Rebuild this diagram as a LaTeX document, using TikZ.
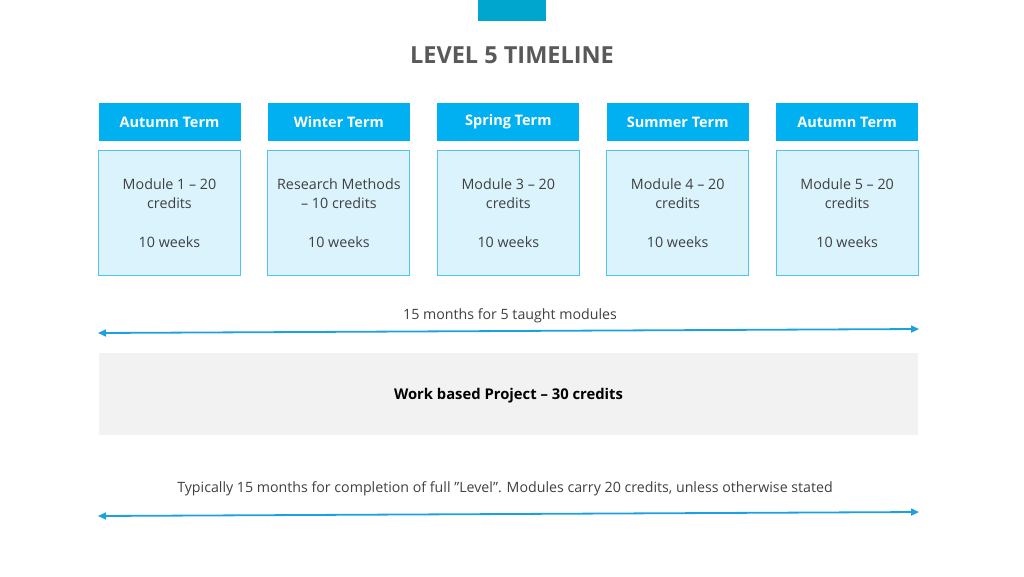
\documentclass[tikz,border=0pt]{standalone}
\usepackage{fontspec}
\setmainfont{Open Sans}
\usepackage{xcolor}
\usetikzlibrary{arrows.meta,positioning}

\definecolor{termblue}{RGB}{0,176,240}
\definecolor{topblue}{RGB}{0,166,206}
\definecolor{modfill}{RGB}{218,243,253}
\definecolor{modline}{RGB}{80,196,240}
\definecolor{lineblue}{RGB}{27,161,226}
\definecolor{txtgray}{RGB}{64,64,64}
\definecolor{titlegray}{RGB}{89,89,89}
\definecolor{projgray}{RGB}{242,242,242}

\begin{document}
\begin{tikzpicture}[
    x=1pt, y=-1pt,
    node distance=27pt,
    term/.style={rectangle, fill=termblue, text=white, font=\fontsize{14.5}{17}\selectfont\bfseries, minimum width=142pt, minimum height=38pt, inner sep=0pt},
    module/.style={rectangle, fill=modfill, draw=modline, line width=0.9pt, text=txtgray, font=\fontsize{14.3}{19.5}\selectfont, align=center, minimum width=142pt, minimum height=125pt, inner sep=0pt},
    span/.style={draw=lineblue, line width=1.8pt, {Triangle[length=8pt,width=7pt]}-{Triangle[length=8pt,width=7pt]}},
    note/.style={text=txtgray, font=\fontsize{14.2}{16}\selectfont, inner sep=0pt}
]
\useasboundingbox (0,0) rectangle (1024,576);

% title
\node[fill=topblue, minimum width=68pt, minimum height=21pt, inner sep=0pt] (topbar) at (512,10.5) {};
\node[text=titlegray, font=\fontsize{23.5}{26}\selectfont\bfseries] (title) at (512,55) {LEVEL 5 TIMELINE};

% terms
\node[term] (autumn1) at (169.5,122) {Autumn Term};
\node[term, right=of autumn1] (winter) {Winter Term};
\node[term, right=of winter] (spring) {Spring Term};
\node[term, right=of spring] (summer) {Summer Term};
\node[term, right=of summer] (autumn2) {Autumn Term};

% modules
\node[module, below=9pt of autumn1] (mod1) {Module 1 -- 20\\credits\\[19.5pt]10 weeks};
\node[module, below=9pt of winter] (research) {Research Methods\\-- 10 credits\\[19.5pt]10 weeks};
\node[module, below=9pt of spring] (mod3) {Module 3 -- 20\\credits\\[19.5pt]10 weeks};
\node[module, below=9pt of summer] (mod4) {Module 4 -- 20\\credits\\[19.5pt]10 weeks};
\node[module, below=9pt of autumn2] (mod5) {Module 5 -- 20\\credits\\[19.5pt]10 weeks};

% taught span
\node[note] (taught) at (510,316) {15 months for 5 taught modules};
\coordinate (taughtl) at (98,333);
\coordinate (taughtr) at (919,329);
\draw[span] (taughtl) -- (taughtr);

% project
\node[fill=projgray, minimum width=819pt, minimum height=82pt, inner sep=0pt] (project) at (508.5,394) {};
\node[font=\fontsize{14.8}{16}\selectfont\bfseries, text=black, inner sep=0pt] (projlabel) at (508.5,396) {Work based Project -- 30 credits};

% level span
\node[note] (level) at (505,489) {Typically 15 months for completion of full ”Level”. Modules carry 20 credits, unless otherwise stated};
\coordinate (levell) at (98,516);
\coordinate (levelr) at (919,512);
\draw[span] (levell) -- (levelr);
\end{tikzpicture}
\end{document}
